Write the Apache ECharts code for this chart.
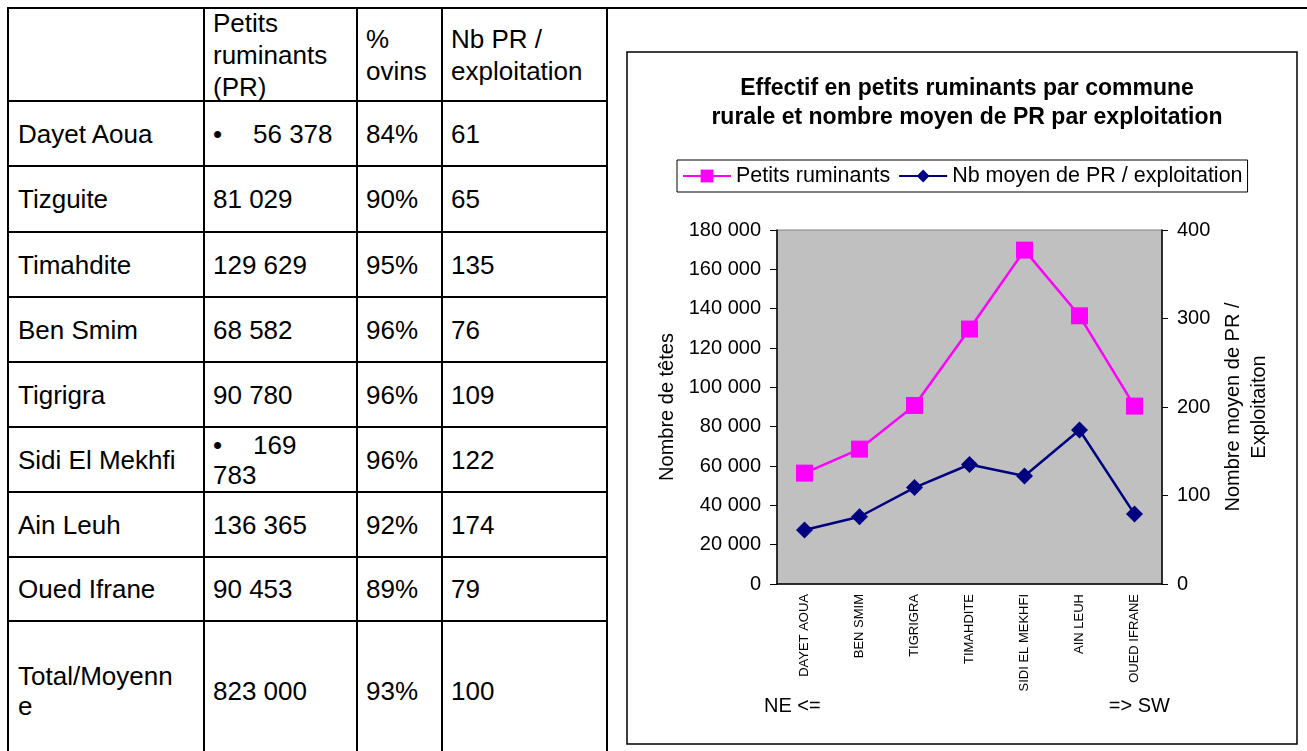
<!DOCTYPE html>
<html>
<head>
<meta charset="utf-8">
<title>Effectif en petits ruminants par commune rurale</title>
<script src="https://cdn.jsdelivr.net/npm/echarts@6/dist/echarts.min.js"></script>
<style>
  html, body { margin: 0; padding: 0; background: #fff; overflow: hidden; }
  body { width: 1307px; height: 751px; position: relative; font-family: "Liberation Sans", Arial, sans-serif; }
  #sheet { position: absolute; left: 0; top: 0; width: 1307px; height: 751px; }
  .rule { position: absolute; background: #000; }
  .cell { position: absolute; display: flex; align-items: center; box-sizing: border-box;
          font-size: 26px; line-height: 30px; color: #000; white-space: pre-line; }
  .cell.head { line-height: 32px; }
  .cell .txt { display: block; }
  .first .txt { width: 168px; word-break: break-all; }
  .pr .txt { width: 130px; }
  .bullet { display: inline-block; width: 40px; }
  #chart { position: absolute; left: 0; top: 0; width: 1307px; height: 751px; }
</style>
</head>
<body>
<div id="sheet"></div>
<div id="chart"></div>
<script>
// ---- Table data (communes in table order) ----
const communes = ['Dayet Aoua', 'Tizguite', 'Timahdite', 'Ben Smim', 'Tigrigra', 'Sidi El Mekhfi', 'Ain Leuh', 'Oued Ifrane'];
const petitsRuminants = [56378, 81029, 129629, 68582, 90780, 169783, 136365, 90453];
const pctOvins = [84, 90, 95, 96, 96, 96, 92, 89];
const prParExploitation = [61, 65, 135, 76, 109, 122, 174, 79];
const bulletedCommunes = ['Dayet Aoua', 'Sidi El Mekhfi'];
const totalLabel = 'Total/Moyenne';
const totalPR = 823000;
const totalPctOvins = 93;
const totalPrParExploitation = 100;
const tableHeaders = ['', 'Petits\nruminants\n(PR)', '%\novins', 'Nb PR /\nexploitation'];

// ---- Chart data (communes ordered from north-east to south-west) ----
const chartCommunes = ['Dayet Aoua', 'Ben Smim', 'Tigrigra', 'Timahdite', 'Sidi El Mekhfi', 'Ain Leuh', 'Oued Ifrane'];
const chartTitle = 'Effectif en petits ruminants par commune\nrurale et nombre moyen de PR par exploitation';
const seriesNames = ['Petits ruminants', 'Nb moyen de PR / exploitation'];
const leftAxisName = 'Nombre de têtes';
const rightAxisName = 'Nombre moyen de PR /\nExploitaiton';
const directionLabels = ['NE <=', '=> SW'];

// thousands separated by a space: 56378 -> "56 378"
function fmt(n) { return String(n).replace(/\B(?=(\d{3})+(?!\d))/g, ' '); }

// ---- Table drawing ----
const colLines = [8, 204, 357, 442, 607];
const rowLines = [8, 101, 166, 232, 297, 362, 427, 492, 557, 621, 760];
const sheet = document.getElementById('sheet');

function rule(x, y, w, h) {
  const d = document.createElement('div');
  d.className = 'rule';
  d.style.left = x + 'px'; d.style.top = y + 'px';
  d.style.width = w + 'px'; d.style.height = h + 'px';
  sheet.appendChild(d);
}
// vertical rules
colLines.forEach(x => rule(x - 1, rowLines[0] - 1, 2, rowLines[rowLines.length - 1] - rowLines[0] + 2));
// top rule runs across the whole page, the others stop at the chart column
rule(colLines[0] - 1, rowLines[0] - 1, 1320, 2);
rowLines.slice(1).forEach(y => rule(colLines[0] - 1, y - 1, colLines[4] - colLines[0] + 2, 2));

function cell(row, col, html) {
  const d = document.createElement('div');
  d.className = 'cell' + (row === 0 ? ' head' : '') + (col === 0 ? ' first' : '') + (col === 1 ? ' pr' : '');
  d.style.left = (colLines[col] + (col === 0 ? 10 : 9)) + 'px';
  d.style.top = rowLines[row] + 'px';
  d.style.height = (rowLines[row + 1] - rowLines[row]) + 'px';
  const t = document.createElement('span');
  t.className = 'txt';
  t.innerHTML = html;
  d.appendChild(t);
  sheet.appendChild(d);
}

tableHeaders.forEach((h, c) => cell(0, c, h));
communes.forEach((name, i) => {
  const r = i + 1;
  const bullet = bulletedCommunes.includes(name) ? '<span class="bullet">•</span>' : '';
  cell(r, 0, name);
  cell(r, 1, bullet + fmt(petitsRuminants[i]));
  cell(r, 2, pctOvins[i] + '%');
  cell(r, 3, String(prParExploitation[i]));
});
const totalRow = communes.length + 1;
cell(totalRow, 0, totalLabel);
cell(totalRow, 1, fmt(totalPR));
cell(totalRow, 2, totalPctOvins + '%');
cell(totalRow, 3, String(totalPrParExploitation));

// ---- Chart ----
const idx = chartCommunes.map(n => communes.indexOf(n));
const chartLabels = chartCommunes.map(n => n.toUpperCase());
const prSeries = idx.map(i => petitsRuminants[i]);
const moyenSeries = idx.map(i => prParExploitation[i]);

const font = '"Liberation Sans", Arial, sans-serif';
const chart = echarts.init(document.getElementById('chart'), null, { renderer: 'canvas' });
chart.setOption({
  animation: false,
  textStyle: { fontFamily: font, color: '#000' },
  title: {
    text: chartTitle,
    left: 962, top: 69, textAlign: 'center',
    textStyle: { fontFamily: font, fontSize: 23, fontWeight: 'bold', lineHeight: 29, color: '#000' }
  },
  legend: {
    left: 677, top: 160,
    padding: [5, 5],
    itemGap: 8, itemWidth: 48, itemHeight: 16,
    borderColor: '#000', borderWidth: 1,
    textStyle: { fontFamily: font, fontSize: 21.5, color: '#000' },
    data: seriesNames
  },
  grid: {
    left: 777, top: 230, width: 385, height: 354,
    show: true, backgroundColor: '#c0c0c0', borderColor: '#808080', borderWidth: 1
  },
  xAxis: {
    type: 'category', data: chartLabels, boundaryGap: true,
    axisLine: { lineStyle: { color: '#000', width: 1.5 } },
    axisTick: { length: 5, lineStyle: { color: '#000' } },
    axisLabel: { rotate: 90, interval: 0, fontSize: 13, margin: 10, color: '#000', fontFamily: font }
  },
  yAxis: [{
    type: 'value', min: 0, max: 180000, interval: 20000,
    name: leftAxisName, nameLocation: 'middle', nameGap: 100,
    nameTextStyle: { fontSize: 20, color: '#000', fontFamily: font },
    axisLine: { show: true, lineStyle: { color: '#000', width: 1.5 } },
    axisTick: { show: true, length: 7, lineStyle: { color: '#000' } },
    axisLabel: { fontSize: 20, margin: 16, color: '#000', fontFamily: font, formatter: v => fmt(v) },
    splitLine: { show: false }
  }, {
    type: 'value', min: 0, max: 400, interval: 100, position: 'right',
    name: rightAxisName, nameLocation: 'middle', nameGap: 58,
    nameTextStyle: { fontSize: 20, lineHeight: 26, color: '#000', fontFamily: font },
    axisLine: { show: true, lineStyle: { color: '#000', width: 1.5 } },
    axisTick: { show: true, length: 6, lineStyle: { color: '#000' } },
    axisLabel: { fontSize: 20, margin: 15, color: '#000', fontFamily: font },
    splitLine: { show: false }
  }],
  series: [{
    name: seriesNames[0], type: 'line', yAxisIndex: 0, data: prSeries,
    symbol: 'rect', symbolSize: 17,
    lineStyle: { color: '#ff00ff', width: 2.5 },
    itemStyle: { color: '#ff00ff' }
  }, {
    name: seriesNames[1], type: 'line', yAxisIndex: 1, data: moyenSeries,
    symbol: 'diamond', symbolSize: 17,
    lineStyle: { color: '#000080', width: 2.5 },
    itemStyle: { color: '#000080' }
  }],
  graphic: [{
    type: 'rect', silent: true, z: -1,
    shape: { x: 627, y: 52, width: 670, height: 692 },
    style: { fill: 'none', stroke: '#000', lineWidth: 1.5 }
  }, {
    type: 'text', left: 764, top: 696,
    style: { text: directionLabels[0], font: '20px ' + font, fill: '#000' }
  }, {
    type: 'text', right: 1307 - 1170, top: 696,
    style: { text: directionLabels[1], font: '20px ' + font, fill: '#000' }
  }]
});
</script>
</body>
</html>
